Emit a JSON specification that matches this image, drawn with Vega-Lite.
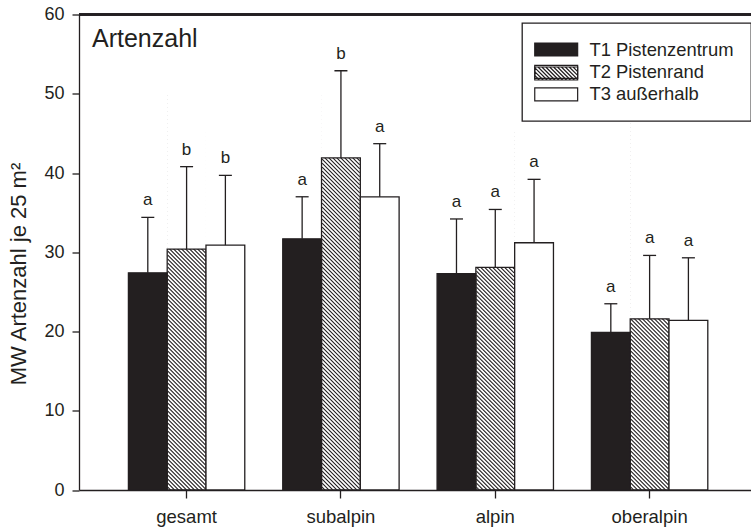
{
  "$schema": "https://vega.github.io/schema/vega-lite/v6.json",
  "width": 672,
  "height": 475.5,
  "autosize": "none",
  "padding": {"left": 79, "top": 14.5, "right": 0, "bottom": 40},
  "background": "white",
  "config": {
    "view": {"stroke": null},
    "font": "Liberation Sans",
    "axis": {
      "domainColor": "#231f20",
      "domainWidth": 1.3,
      "tickColor": "#231f20",
      "tickWidth": 1.3,
      "labelColor": "#231f20",
      "titleColor": "#231f20",
      "labelFont": "Liberation Sans",
      "titleFont": "Liberation Sans",
      "grid": false
    },
    "axisX": {"labelAngle": 0, "labelFontSize": 18.5, "labelPadding": 9, "tickSize": 8},
    "axisY": {
      "labelFontSize": 18,
      "labelPadding": 8,
      "tickSize": 7,
      "tickCount": 6,
      "titleFontSize": 22,
      "titleFontWeight": "normal",
      "titlePadding": 13,
      "titleY": 259
    },
    "legend": {
      "strokeWidth": 1.3,
      "symbolSize": 169,
      "symbolStrokeWidth": 1.2,
      "symbolStrokeColor": "#231f20",
      "padding": 17.3,
      "symbolOffset": 7.7,
      "labelOffset": 24,
      "labelFontSize": 18.4,
      "labelColor": "#231f20",
      "rowPadding": 3.4
    }
  },
  "title": {
    "text": "Artenzahl",
    "anchor": "start",
    "frame": "group",
    "orient": "top",
    "offset": -66,
    "dx": 13,
    "fontSize": 25,
    "fontWeight": "normal",
    "font": "Liberation Sans",
    "color": "#231f20",
    "baseline": "alphabetic"
  },
  "data": {
    "values": [
      {"hz": "gesamt", "beh": "T1 Pistenzentrum", "mw": 27.4, "ober": 34.4, "buchst": "a"},
      {"hz": "gesamt", "beh": "T2 Pistenrand", "mw": 30.4, "ober": 40.8, "buchst": "b"},
      {"hz": "gesamt", "beh": "T3 außerhalb", "mw": 30.9, "ober": 39.7, "buchst": "b"},
      {"hz": "subalpin", "beh": "T1 Pistenzentrum", "mw": 31.7, "ober": 37.0, "buchst": "a"},
      {"hz": "subalpin", "beh": "T2 Pistenrand", "mw": 41.9, "ober": 52.9, "buchst": "b"},
      {"hz": "subalpin", "beh": "T3 außerhalb", "mw": 37.0, "ober": 43.7, "buchst": "a"},
      {"hz": "alpin", "beh": "T1 Pistenzentrum", "mw": 27.3, "ober": 34.2, "buchst": "a"},
      {"hz": "alpin", "beh": "T2 Pistenrand", "mw": 28.1, "ober": 35.4, "buchst": "a"},
      {"hz": "alpin", "beh": "T3 außerhalb", "mw": 31.2, "ober": 39.2, "buchst": "a"},
      {"hz": "oberalpin", "beh": "T1 Pistenzentrum", "mw": 19.9, "ober": 23.5, "buchst": "a"},
      {"hz": "oberalpin", "beh": "T2 Pistenrand", "mw": 21.6, "ober": 29.6, "buchst": "a"},
      {"hz": "oberalpin", "beh": "T3 außerhalb", "mw": 21.4, "ober": 29.3, "buchst": "a"}
    ]
  },
  "layer": [
    {
      "transform": [{"filter": "datum.beh === 'T2 Pistenrand'"}],
      "mark": {
        "type": "point",
        "shape": "M-18.8,1.2l37.6,37.6m-37.6,-41.6l37.6,37.6m-37.6,-41.6l37.6,37.6m-37.6,-41.6l37.6,37.6m-37.6,-41.6l37.6,37.6m-37.6,-41.6l37.6,37.6m-37.6,-41.6l37.6,37.6m-37.6,-41.6l37.6,37.6m-37.6,-41.6l37.6,37.6m-37.6,-41.6l37.6,37.6m-37.6,-41.6l37.6,37.6m-37.6,-41.6l37.6,37.6m-37.6,-41.6l37.6,37.6m-37.6,-41.6l37.6,37.6m-37.6,-41.6l37.6,37.6m-37.6,-41.6l37.6,37.6m-37.6,-41.6l37.6,37.6m-37.6,-41.6l37.6,37.6m-37.6,-41.6l37.6,37.6m-37.6,-41.6l37.6,37.6m-37.6,-41.6l37.6,37.6m-37.6,-41.6l37.6,37.6m-37.6,-41.6l37.6,37.6m-37.6,-41.6l37.6,37.6m-37.6,-41.6l37.6,37.6m-37.6,-41.6l37.6,37.6m-37.6,-41.6l37.6,37.6m-37.6,-41.6l37.6,37.6m-37.6,-41.6l37.6,37.6m-37.6,-41.6l37.6,37.6m-37.6,-41.6l37.6,37.6m-37.6,-41.6l37.6,37.6m-37.6,-41.6l37.6,37.6m-37.6,-41.6l37.6,37.6m-37.6,-41.6l37.6,37.6m-37.6,-41.6l37.6,37.6m-37.6,-41.6l37.6,37.6m-37.6,-41.6l37.6,37.6m-37.6,-41.6l37.6,37.6m-37.6,-41.6l37.6,37.6m-37.6,-41.6l37.6,37.6m-37.6,-41.6l37.6,37.6m-37.6,-41.6l37.6,37.6m-37.6,-41.6l37.6,37.6m-37.6,-41.6l37.6,37.6m-37.6,-41.6l37.6,37.6m-37.6,-41.6l37.6,37.6m-37.6,-41.6l37.6,37.6m-37.6,-41.6l37.6,37.6m-37.6,-41.6l37.6,37.6m-37.6,-41.6l37.6,37.6m-37.6,-41.6l37.6,37.6m-37.6,-41.6l37.6,37.6m-37.6,-41.6l37.6,37.6m-37.6,-41.6l37.6,37.6m-37.6,-41.6l37.6,37.6m-37.6,-41.6l37.6,37.6m-37.6,-41.6l37.6,37.6m-37.6,-41.6l37.6,37.6m-37.6,-41.6l37.6,37.6m-37.6,-41.6l37.6,37.6m-37.6,-41.6l37.6,37.6m-37.6,-41.6l37.6,37.6m-37.6,-41.6l37.6,37.6m-37.6,-41.6l37.6,37.6m-37.6,-41.6l37.6,37.6m-37.6,-41.6l37.6,37.6m-37.6,-41.6l37.6,37.6m-37.6,-41.6l37.6,37.6m-37.6,-41.6l37.6,37.6m-37.6,-41.6l37.6,37.6m-37.6,-41.6l37.6,37.6m-37.6,-41.6l37.6,37.6m-37.6,-41.6l37.6,37.6m-37.6,-41.6l37.6,37.6m-37.6,-41.6l37.6,37.6m-37.6,-41.6l37.6,37.6m-37.6,-41.6l37.6,37.6m-37.6,-41.6l37.6,37.6m-37.6,-41.6l37.6,37.6m-37.6,-41.6l37.6,37.6m-37.6,-41.6l37.6,37.6m-37.6,-41.6l37.6,37.6m-37.6,-41.6l37.6,37.6m-37.6,-41.6l37.6,37.6m-37.6,-41.6l37.6,37.6m-37.6,-41.6l37.6,37.6m-37.6,-41.6l37.6,37.6m-37.6,-41.6l37.6,37.6m-37.6,-41.6l37.6,37.6m-37.6,-41.6l37.6,37.6m-37.6,-41.6l37.6,37.6m-37.6,-41.6l37.6,37.6m-37.6,-41.6l37.6,37.6m-37.6,-41.6l37.6,37.6m-37.6,-41.6l37.6,37.6m-37.6,-41.6l37.6,37.6m-37.6,-41.6l37.6,37.6m-37.6,-41.6l37.6,37.6m-37.6,-41.6l37.6,37.6m-37.6,-41.6",
        "size": 4,
        "filled": false,
        "stroke": "#231f20",
        "strokeWidth": 1.1,
        "opacity": 1,
        "clip": true
      },
      "encoding": {
        "x": {"field": "hz", "type": "nominal", "title": null, "sort": ["gesamt", "subalpin", "alpin", "oberalpin"], "scale": {"paddingInner": 0.246, "paddingOuter": 0.3, "align": 0.5335}},
        "xOffset": {"field": "beh", "type": "nominal", "sort": ["T1 Pistenzentrum", "T2 Pistenrand", "T3 außerhalb"], "scale": {"paddingInner": 0, "paddingOuter": 0}},
        "y": {"datum": 0, "type": "quantitative", "title": "MW Artenzahl je 25 m²", "scale": {"domain": [0, 60]}}
      }
    },
    {
      "transform": [{"filter": "datum.beh === 'T2 Pistenrand'"}],
      "mark": {"type": "bar", "fill": "white", "strokeWidth": 0},
      "encoding": {
        "x": {"field": "hz", "type": "nominal", "title": null, "sort": ["gesamt", "subalpin", "alpin", "oberalpin"]},
        "xOffset": {"field": "beh", "type": "nominal", "sort": ["T1 Pistenzentrum", "T2 Pistenrand", "T3 außerhalb"]},
        "y": {"field": "mw", "type": "quantitative", "stack": null, "title": "MW Artenzahl je 25 m²"},
        "y2": {"datum": 50}
      }
    },
    {
      "mark": {"type": "bar", "stroke": "#231f20", "strokeWidth": 1.3},
      "encoding": {
        "x": {"field": "hz", "type": "nominal", "title": null, "sort": ["gesamt", "subalpin", "alpin", "oberalpin"]},
        "xOffset": {"field": "beh", "type": "nominal", "sort": ["T1 Pistenzentrum", "T2 Pistenrand", "T3 außerhalb"]},
        "y": {"field": "mw", "type": "quantitative", "stack": null, "title": "MW Artenzahl je 25 m²"},
        "fill": {
          "field": "beh",
          "type": "nominal",
          "sort": ["T1 Pistenzentrum", "T2 Pistenrand", "T3 außerhalb"],
          "scale": {"range": ["#231f20", "transparent", "white"]},
          "legend": {
            "title": null,
            "orient": "none",
            "legendX": 443,
            "legendY": 8.5,
            "symbolType": "M-3.3,-1H3.3V1H-3.3Z",
            "strokeColor": "#231f20",
            "fillColor": "white"
          }
        }
      }
    },
    {
      "transform": [{"filter": "datum.mw < 0"}],
      "mark": {"type": "point", "filled": false, "color": "#231f20", "opacity": 1},
      "encoding": {
        "shape": {
          "field": "beh",
          "type": "nominal",
          "scale": {
            "domain": ["T2 Pistenrand"],
            "range": ["M-3.3,-1H3.3V1H-3.3ZM2.6,-1L3.3,-0.3M2,-1L3.3,0.3M1.4,-1L3.3,0.9M0.8,-1L2.8,1M0.2,-1L2.2,1M-0.4,-1L1.6,1M-1,-1L1,1M-1.6,-1L0.4,1M-2.2,-1L-0.2,1M-2.8,-1L-0.8,1M-3.3,-0.9L-1.4,1M-3.3,-0.3L-2,1M-3.3,0.3L-2.6,1"]
          },
          "legend": {
            "title": null,
            "orient": "none",
            "legendX": 443,
            "legendY": 32.5,
            "labelExpr": "''",
            "strokeColor": null,
            "fillColor": null
          }
        }
      }
    },
    {
      "mark": {"type": "rule", "color": "#231f20", "strokeWidth": 1.3},
      "encoding": {
        "x": {"field": "hz", "type": "nominal", "title": null, "sort": ["gesamt", "subalpin", "alpin", "oberalpin"]},
        "xOffset": {"field": "beh", "type": "nominal", "sort": ["T1 Pistenzentrum", "T2 Pistenrand", "T3 außerhalb"]},
        "y": {"field": "mw", "type": "quantitative", "title": "MW Artenzahl je 25 m²"},
        "y2": {"field": "ober"}
      }
    },
    {
      "mark": {"type": "tick", "orient": "horizontal", "size": 13, "thickness": 1.3, "color": "#231f20", "opacity": 1},
      "encoding": {
        "x": {"field": "hz", "type": "nominal", "title": null, "sort": ["gesamt", "subalpin", "alpin", "oberalpin"]},
        "xOffset": {"field": "beh", "type": "nominal", "sort": ["T1 Pistenzentrum", "T2 Pistenrand", "T3 außerhalb"]},
        "y": {"field": "ober", "type": "quantitative", "title": "MW Artenzahl je 25 m²"}
      }
    },
    {
      "mark": {"type": "text", "fontSize": 17, "color": "#231f20", "baseline": "alphabetic", "dy": -12},
      "encoding": {
        "x": {"field": "hz", "type": "nominal", "title": null, "sort": ["gesamt", "subalpin", "alpin", "oberalpin"]},
        "xOffset": {"field": "beh", "type": "nominal", "sort": ["T1 Pistenzentrum", "T2 Pistenrand", "T3 außerhalb"]},
        "y": {"field": "ober", "type": "quantitative", "title": "MW Artenzahl je 25 m²"},
        "text": {"field": "buchst"}
      }
    },
    {
      "mark": {"type": "rule", "color": "#231f20", "strokeWidth": 1.3},
      "encoding": {
        "y": {"datum": 60, "type": "quantitative", "title": "MW Artenzahl je 25 m²"}
      }
    }
  ]
}
